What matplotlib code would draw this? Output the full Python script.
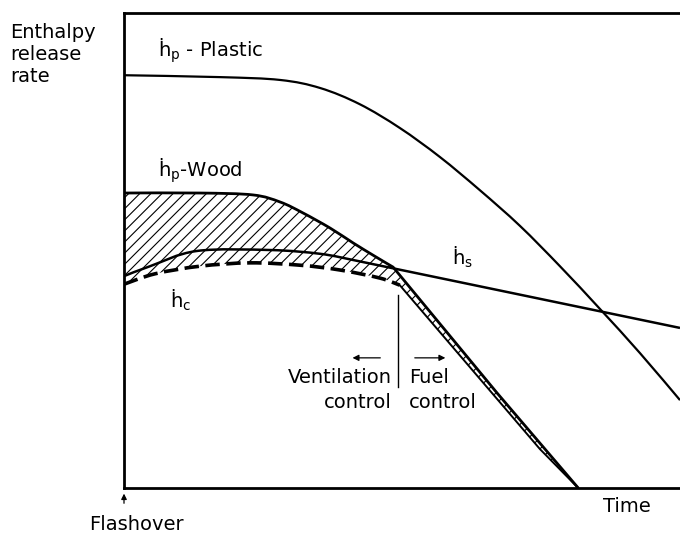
import numpy as np
import matplotlib
matplotlib.use("Agg")
import matplotlib.pyplot as plt
from matplotlib.path import Path
from matplotlib.patches import PathPatch

plt.rcParams['font.family'] = ['DejaVu Sans']
plt.rcParams['mathtext.fontset'] = 'dejavusans'
plt.rcParams['hatch.linewidth'] = 0.8

# Schematic data (time and enthalpy release rate in arbitrary units, 0-100)
plastic_t = [0, 17.3, 28.1, 35.3, 42.4, 49.6, 56.8, 64.0, 71.2, 78.4, 85.6, 92.8, 100]
plastic_r = [86.9, 86.5, 85.9, 84.2, 80.8, 75.8, 69.7, 62.7, 55.2, 46.7, 37.7, 28.4, 18.5]

# wood: rounded part (ventilation control) then straight decay (fuel control)
wood_t = [0, 13.7, 23.2, 28.1, 32.2, 37.1, 41.2, 45.1, 48.4, 67.1, 81.7]
wood_r = [62.1, 62.1, 61.7, 60.2, 57.9, 54.7, 51.6, 48.8, 46.5, 20.0, 0.0]
WOOD_KNEE = 8

hs_t = [0, 4.7, 13.1, 26.3, 35.3, 41.2, 62.8, 100]
hs_r = [44.6, 46.7, 49.9, 50.1, 49.3, 48.0, 42.75, 33.7]
HS_KNEE = 5

hc_t = [0, 5.6, 13.7, 22.7, 31.7, 38.8, 46.0, 49.6, 74.8, 81.7]
hc_r = [42.9, 45.1, 46.7, 47.4, 46.9, 45.9, 44.2, 42.7, 8.2, 0.0]
HC_KNEE = 7


def bezier_vertices(t, r, knee):
    """Catmull-Rom Bezier vertices through the points up to `knee`, straight segments after."""
    p = np.column_stack([t, r]).astype(float)
    n = knee + 1
    verts = [p[0]]
    for i in range(n - 1):
        p0 = p[i - 1] if i > 0 else p[i]
        p1, p2 = p[i], p[i + 1]
        p3 = p[i + 2] if i + 2 < n else p[i + 1]
        verts += [p1 + (p2 - p0) / 6.0, p2 - (p3 - p1) / 6.0, p2]
    for j in range(knee, len(p) - 1):
        a, b = p[j], p[j + 1]
        verts += [a + (b - a) / 3.0, a + 2 * (b - a) / 3.0, b]
    return np.array(verts)


def curve_path(verts):
    codes = [Path.MOVETO] + [Path.CURVE4] * (len(verts) - 1)
    return Path(verts, codes)


fig = plt.figure(figsize=(6.8, 5.35), dpi=100)
ax = fig.add_axes([124/680, 1-488/535, 1-124/680, (488-13)/535])
ax.set_xlim(0, 100)
ax.set_ylim(0, 100)
ax.set_xticks([])
ax.set_yticks([])
for s in ['left', 'bottom', 'top']:
    ax.spines[s].set_linewidth(2.0)
ax.spines['right'].set_visible(False)

wood_v = bezier_vertices(wood_t, wood_r, WOOD_KNEE)
hc_v = bezier_vertices(hc_t, hc_r, HC_KNEE)

# hatched area between wood and h_c
fill_verts = np.vstack([wood_v, hc_v[::-1], wood_v[:1]])
fill_codes = ([Path.MOVETO] + [Path.CURVE4] * (len(wood_v) - 1)
              + [Path.LINETO] + [Path.CURVE4] * (len(hc_v) - 1) + [Path.CLOSEPOLY])
ax.add_patch(PathPatch(Path(fill_verts, fill_codes), facecolor='none',
                       edgecolor='black', hatch='///', linewidth=0))

ax.add_patch(PathPatch(curve_path(bezier_vertices(plastic_t, plastic_r, len(plastic_t) - 1)),
                       fill=False, edgecolor='black', lw=1.6))
ax.add_patch(PathPatch(curve_path(wood_v), fill=False, edgecolor='black', lw=2.0))
ax.add_patch(PathPatch(curve_path(bezier_vertices(hs_t, hs_r, HS_KNEE)),
                       fill=False, edgecolor='black', lw=1.8))
hc_curved = bezier_vertices(hc_t[:HC_KNEE + 1], hc_r[:HC_KNEE + 1], HC_KNEE)
ax.add_patch(PathPatch(curve_path(hc_curved), fill=False,
                       edgecolor='black', lw=2.6, linestyle=(0, (4, 1.8))))
ax.plot(hc_t[HC_KNEE:], hc_r[HC_KNEE:], color='black', lw=1.4)

# control boundary
ax.plot([49.3, 49.3], [21.3, 40.6], color='black', lw=1.0)
ax.annotate('', xy=(40.6, 27.4), xytext=(46.6, 27.4),
            arrowprops=dict(arrowstyle='-|>', color='black', lw=0.9, mutation_scale=9))
ax.annotate('', xy=(58.3, 27.4), xytext=(51.8, 27.4),
            arrowprops=dict(arrowstyle='-|>', color='black', lw=0.9, mutation_scale=9))

fs = 14
ax.text(48.2, 23.2, 'Ventilation', ha='right', va='center', fontsize=fs)
ax.text(48.2, 17.9, 'control', ha='right', va='center', fontsize=fs)
ax.text(51.3, 23.2, 'Fuel', ha='left', va='center', fontsize=fs)
ax.text(51.3, 17.9, 'control', ha='left', va='center', fontsize=fs)

ax.text(6.1, 92.0, 'ḣ$_{\\mathrm{p}}$ - Plastic', ha='left', va='center', fontsize=fs)
ax.text(6.1, 66.7, 'ḣ$_{\\mathrm{p}}$-Wood', ha='left', va='center', fontsize=fs)
ax.text(59.0, 48.6, 'ḣ$_{\\mathrm{s}}$', ha='left', va='center', fontsize=fs)
ax.text(8.3, 39.4, 'ḣ$_{\\mathrm{c}}$', ha='left', va='center', fontsize=fs)

ax.text(90.5, -4.0, 'Time', ha='center', va='center', fontsize=fs, clip_on=False)
ax.text(2.3, -7.6, 'Flashover', ha='center', va='center', fontsize=fs, clip_on=False)
ax.annotate('', xy=(0, -0.6), xytext=(0, -3.8), annotation_clip=False,
            arrowprops=dict(arrowstyle='-|>', color='black', lw=0.9, mutation_scale=8))

fig.text(10/680, 1-33/535, 'Enthalpy', ha='left', va='center', fontsize=fs)
fig.text(10/680, 1-55/535, 'release', ha='left', va='center', fontsize=fs)
fig.text(10/680, 1-77/535, 'rate', ha='left', va='center', fontsize=fs)

fig.savefig('out.png', dpi=100)
